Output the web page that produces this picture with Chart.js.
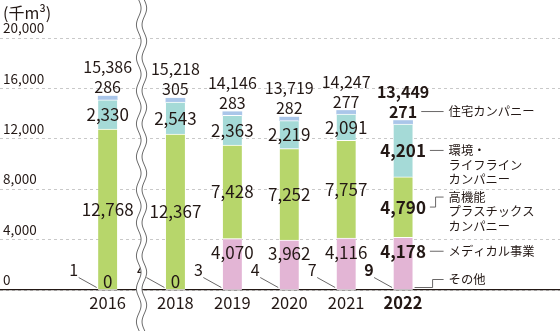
<!DOCTYPE html>
<html lang="ja">
<head>
<meta charset="utf-8">
<script src="https://cdn.jsdelivr.net/npm/chart.js@4.4.1/dist/chart.umd.min.js"></script>
<style>
  html, body { margin: 0; padding: 0; background: #fff; }
  #wrap { width: 560px; height: 331px; }
</style>
</head>
<body>
<div id="wrap"><canvas class="grafico" width="560" height="331"></canvas></div>
<script>
const years = ["2016", "2018", "2019", "2020", "2021", "2022"];
const sonota = [1, 4, 3, 4, 7, 9];
const medical = [0, 0, 4070, 3962, 4116, 4178];
const plastics = [12768, 12367, 7428, 7252, 7757, 4790];
const kankyo = [2330, 2543, 2363, 2219, 2091, 4201];
const jutaku = [286, 305, 283, 282, 277, 271];
const totals = [15386, 15218, 14146, 13719, 14247, 13449];
const yTicks = [0, 4000, 8000, 12000, 16000, 20000];
const unitLabel = "(千m³)";
const seriesNames = ["その他", "メディカル事業", "高機能プラスチックスカンパニー", "環境・ライフラインカンパニー", "住宅カンパニー"];
const legendLines = [["その他"], ["メディカル事業"], ["高機能", "プラスチックス", "カンパニー"], ["環境・", "ライフライン", "カンパニー"], ["住宅カンパニー"]];

// 2016 y 2018 estan separados por el corte del eje
const breakGap = 1.19;
const xs = years.map((_, i) => i === 0 ? -breakGap : i - 1);

const FONT = '"Noto Sans CJK JP", "Noto Sans", sans-serif';
const INK = "#231815";
const LINE = "#595757";
const colores = ["#9fa0a0", "#e3b5d5", "#b7d66b", "#a5dad7", "#aac6e9"];
const series = [sonota, medical, plastics, kankyo, jutaku];

const canvas = document.querySelector(".grafico");

const fmt = (v) => v.toLocaleString("en-US");

const centroCorte = (chart) => {
  const sx = chart.scales.x;
  return (sx.getPixelForValue(xs[0]) + sx.getPixelForValue(xs[1])) / 2;
};

const etiquetas = {
  id: "etiquetas",
  afterDatasetsDraw(chart) {
    const ctx = chart.ctx;
    const last = years.length - 1;
    const corte = centroCorte(chart);
    ctx.save();
    ctx.fillStyle = INK;
    ctx.strokeStyle = LINE;
    ctx.lineWidth = 0.9;
    ctx.textAlign = "center";
    ctx.textBaseline = "middle";
    years.forEach((yr, i) => {
      const peso = i === last ? "bold " : "";
      const bars = series.map((_, d) => chart.getDatasetMeta(d).data[i]);
      const x = bars[0].x;
      const base = bars[0].base;
      const pos = [];
      // otros: numero a la izquierda con linea (sin pisar el corte)
      let lx = x - 34;
      if (lx > corte && lx < corte + 12) lx = corte + 12;
      pos[0] = base - 20;
      ctx.font = peso + "16px " + FONT;
      ctx.fillText(fmt(sonota[i]), lx, pos[0]);
      ctx.beginPath();
      ctx.moveTo(lx + 5, base - 12);
      ctx.lineTo(x - 11, base - 2);
      ctx.stroke();
      // segmentos
      ctx.font = peso + "17px " + FONT;
      pos[1] = Math.min(bars[1].y + 14, bars[1].base - 8);
      ctx.fillText(fmt(medical[i]), x, pos[1]);
      pos[2] = (bars[2].y + bars[2].base) / 2;
      ctx.fillText(fmt(plastics[i]), x, pos[2]);
      pos[3] = (bars[3].y + bars[3].base) / 2;
      ctx.fillText(fmt(kankyo[i]), x, pos[3]);
      ctx.font = peso + "16px " + FONT;
      pos[4] = bars[4].y - 9;
      ctx.fillText(fmt(jutaku[i]), x, pos[4]);
      ctx.fillText(fmt(totals[i]), x, bars[4].y - 29);

      if (i !== last) return;
      // leyenda a la derecha de 2022
      const right = x + 9.5;
      const lineEnd = right + 31;
      const textX = right + 36;
      const vals = series.map(s => s[i]);
      const labelRight = (d) => {
        ctx.font = (d === 4 ? "bold 16px " : "bold 17px ") + FONT;
        return x + ctx.measureText(fmt(vals[d])).width / 2 + 4;
      };
      const textY = [];
      ctx.beginPath();
      // otros
      ctx.moveTo(right + 2, base - 2);
      ctx.lineTo(right + 20, base - 2);
      ctx.lineTo(right + 20, base - 10);
      ctx.lineTo(lineEnd, base - 10);
      textY[0] = base - 10;
      // medica
      ctx.moveTo(labelRight(1), pos[1]);
      ctx.lineTo(lineEnd, pos[1]);
      textY[1] = pos[1];
      // plasticos
      ctx.moveTo(labelRight(2), pos[2]);
      ctx.lineTo(right + 23, pos[2]);
      ctx.lineTo(right + 23, pos[2] - 10);
      ctx.lineTo(lineEnd, pos[2] - 10);
      textY[2] = pos[2] - 10;
      // medio ambiente
      ctx.moveTo(labelRight(3), pos[3]);
      ctx.lineTo(lineEnd, pos[3]);
      textY[3] = pos[3];
      // vivienda
      ctx.moveTo(labelRight(4), pos[4]);
      ctx.lineTo(lineEnd, pos[4]);
      textY[4] = pos[4];
      ctx.stroke();

      ctx.font = "12.3px " + FONT;
      ctx.textAlign = "left";
      legendLines.forEach((lines, d) => {
        lines.forEach((t, k) => ctx.fillText(t, textX, textY[d] + k * 14.5));
      });
      ctx.textAlign = "center";
    });
    ctx.restore();
  },
  afterDraw(chart) {
    const ctx = chart.ctx;
    const c = centroCorte(chart);
    const h = chart.height;
    const wave = (y) => 2.3 * Math.sin(2 * Math.PI * y / 33);
    ctx.save();
    // corte del eje
    ctx.beginPath();
    for (let y = 0; y <= h; y++) ctx.lineTo(c - 2.8 + wave(y), y);
    for (let y = h; y >= 0; y--) ctx.lineTo(c + 2.8 + wave(y), y);
    ctx.closePath();
    ctx.fillStyle = "#ffffff";
    ctx.fill();
    ctx.strokeStyle = "#6b6b6b";
    ctx.lineWidth = 1;
    [-2.8, 2.8].forEach((off) => {
      ctx.beginPath();
      for (let y = 0; y <= h; y++) ctx.lineTo(c + off + wave(y), y);
      ctx.stroke();
    });
    // unidad
    ctx.fillStyle = INK;
    ctx.font = "16px " + FONT;
    ctx.textAlign = "left";
    ctx.textBaseline = "middle";
    ctx.fillText(unitLabel, 3, 13);
    ctx.restore();
  }
};

const config = {
  type: "bar",
  data: {
    datasets: series.map((vals, d) => ({
      label: seriesNames[d],
      data: vals.map((v, i) => ({ x: xs[i], y: v })),
      backgroundColor: colores[d],
      borderColor: "#ffffff",
      borderWidth: d === 4 ? 0 : { top: 1, right: 0, bottom: 0, left: 0 },
      borderSkipped: false,
      barThickness: 19
    }))
  },
  options: {
    responsive: false,
    devicePixelRatio: 1,
    animation: false,
    layout: { padding: { top: 38, left: 0, right: 0, bottom: 0 } },
    plugins: { legend: { display: false }, tooltip: { enabled: false } },
    scales: {
      x: {
        type: "linear",
        stacked: true,
        min: -2.262,
        max: 5.937,
        afterBuildTicks: (s) => { s.ticks = xs.map(v => ({ value: v })); },
        afterFit: (s) => { s.height = 41; },
        grid: { display: true, drawOnChartArea: false, drawTicks: false },
        border: { display: true, color: INK, width: 1.3 },
        ticks: {
          autoSkip: false,
          maxRotation: 0,
          padding: 3,
          color: INK,
          callback: (v, i) => years[i],
          font: (c) => ({ family: FONT, size: 16.5, weight: c.index === years.length - 1 ? "bold" : "normal" })
        }
      },
      y: {
        stacked: true,
        min: 0,
        max: 20000,
        afterBuildTicks: (s) => { s.ticks = yTicks.map(v => ({ value: v })); },
        afterFit: (s) => { s.width = 0; },
        grid: { color: "#c9c9c9", lineWidth: 1, drawTicks: false },
        border: { display: false, dash: [3, 3] },
        ticks: {
          mirror: true,
          padding: 3,
          labelOffset: -10,
          color: INK,
          font: { family: FONT, size: 13.5 },
          callback: (v) => fmt(v)
        }
      }
    }
  },
  plugins: [etiquetas]
};

new Chart(canvas, config);
</script>
</body>
</html>
